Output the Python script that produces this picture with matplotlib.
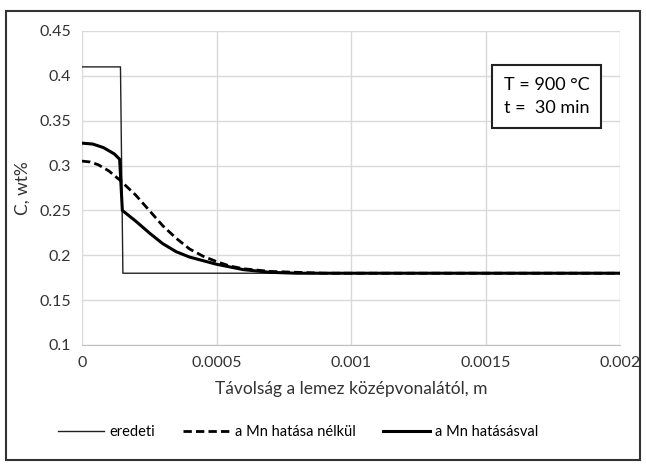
import matplotlib
matplotlib.use("Agg")
import matplotlib.pyplot as plt
from matplotlib.patches import Rectangle

plt.rcParams['font.family'] = ['Lato', 'DejaVu Sans']

# Data
x_eredeti = [0, 0.000143, 0.000152, 0.002]
y_eredeti = [0.41, 0.41, 0.18, 0.18]

x_nelkul = [0, 0.00003, 0.00006, 0.0001, 0.00014, 0.0002, 0.00025, 0.0003, 0.00035,
            0.0004, 0.00045, 0.0005, 0.00055, 0.0006, 0.0007, 0.0008, 0.0009, 0.002]
y_nelkul = [0.305, 0.304, 0.301, 0.294, 0.284, 0.267, 0.250, 0.233, 0.219,
            0.207, 0.199, 0.193, 0.188, 0.185, 0.182, 0.181, 0.180, 0.180]

x_val = [0, 0.00004, 0.00008, 0.00012, 0.00014, 0.00015, 0.0002, 0.00025, 0.0003,
         0.00035, 0.0004, 0.00045, 0.0005, 0.00055, 0.0006, 0.0007, 0.0008, 0.002]
y_val = [0.325, 0.324, 0.320, 0.313, 0.307, 0.250, 0.238, 0.225, 0.213,
         0.204, 0.198, 0.194, 0.190, 0.187, 0.184, 0.181, 0.180, 0.180]

xticks = [0, 0.0005, 0.001, 0.0015, 0.002]
xtick_labels = ['0', '0.0005', '0.001', '0.0015', '0.002']
yticks = [0.1, 0.15, 0.2, 0.25, 0.3, 0.35, 0.4, 0.45]
ytick_labels = ['0.1', '0.15', '0.2', '0.25', '0.3', '0.35', '0.4', '0.45']

fig = plt.figure(figsize=(6.46, 4.67), dpi=100)
ax = fig.add_axes([82/646, 1 - 345/467, 538/646, 314/467])

ax.plot(x_eredeti, y_eredeti, color='#222222', lw=1.0, label='eredeti')
ax.plot(x_nelkul, y_nelkul, color='black', lw=2.0, ls=(0, (3, 1.5)), label='a Mn hatása nélkül')
ax.plot(x_val, y_val, color='black', lw=2.2, label='a Mn hatásásval')

ax.set_xlim(0, 0.002)
ax.set_ylim(0.1, 0.45)
ax.set_xticks(xticks)
ax.set_xticklabels(xtick_labels)
ax.set_yticks(yticks)
ax.set_yticklabels(ytick_labels)
ax.tick_params(length=0, labelsize=11.5, colors='#333333', pad=8)
ax.grid(True, color='#d9d9d9', lw=1.0)
ax.set_axisbelow(True)
for s in ['top', 'right', 'left']:
    ax.spines[s].set_visible(False)
ax.spines['bottom'].set_color('#bfbfbf')

ax.set_xlabel('Távolság a lemez középvonalától, m', fontsize=12.5, color='#333333', labelpad=8)
ax.set_ylabel('C, wt%', fontsize=12.5, color='#333333', labelpad=6)

ax.text(0.001727, 0.377, 'T = 900 °C\nt =  30 min', fontsize=13, ha='center', va='center',
        linespacing=1.55, color='black',
        bbox=dict(boxstyle='square,pad=0.65', fc='white', ec='#222222', lw=1.5))

fig.legend(loc='center', bbox_to_anchor=(298/646, 1 - 432/467), ncol=3,
           frameon=False, fontsize=10.5, handlelength=3.2, columnspacing=1.9,
           handletextpad=0.35)

fig.patches.append(Rectangle((6/646, 1 - 460/467), 634/646, 449/467, transform=fig.transFigure,
                             fill=False, ec='#333333', lw=1.5))

fig.savefig('out.png', dpi=100)
